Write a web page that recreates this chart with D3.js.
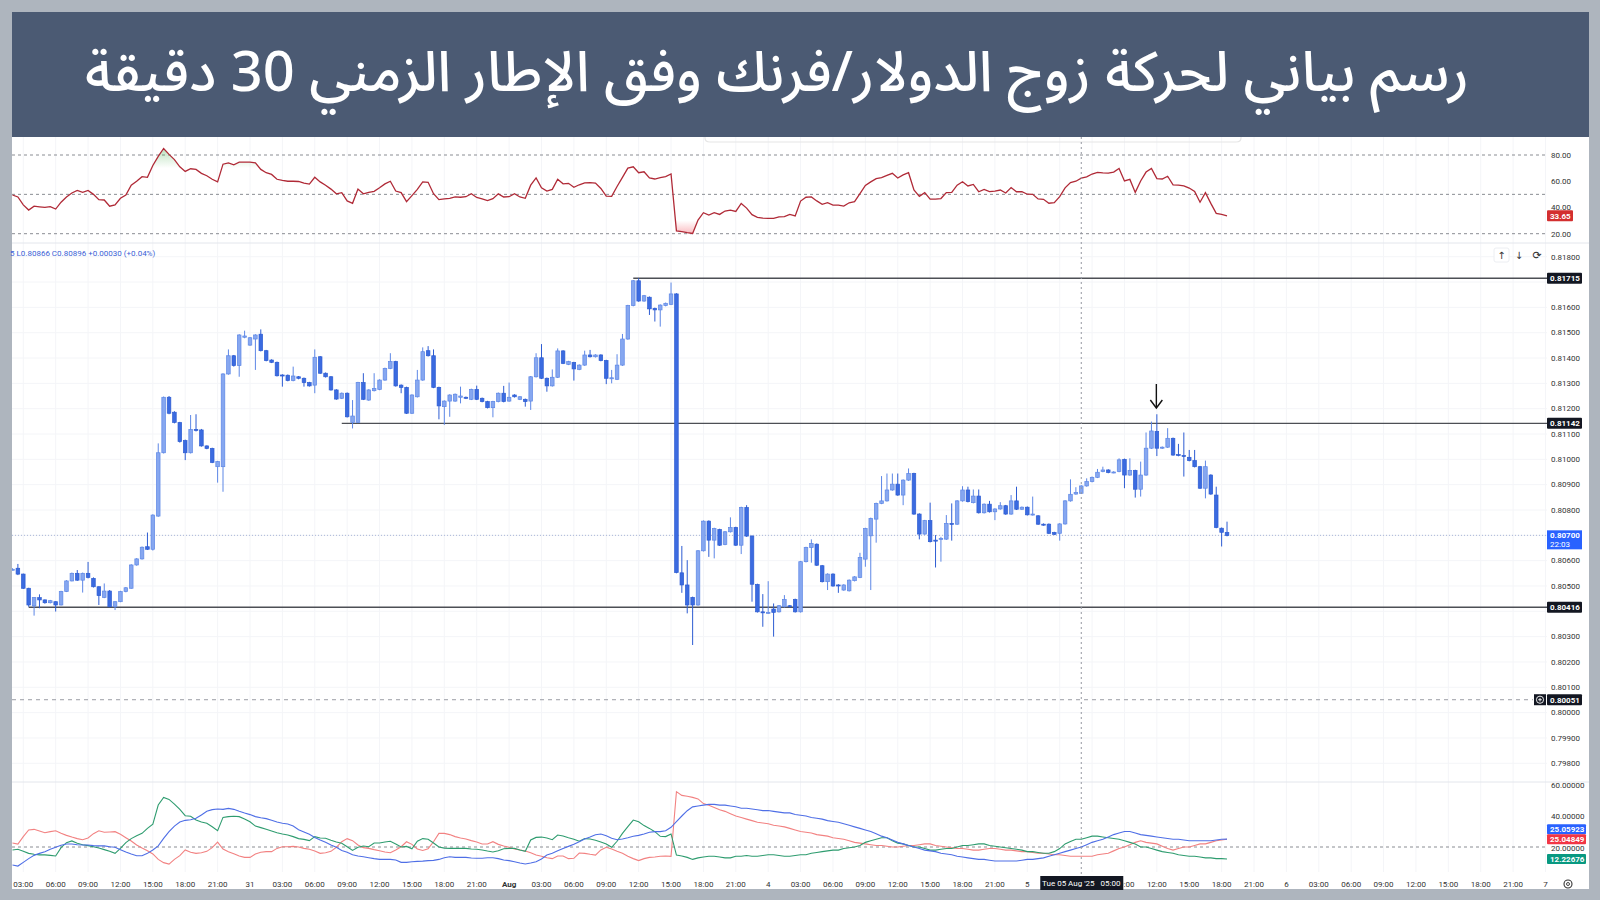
<!DOCTYPE html>
<html><head><meta charset="utf-8">
<script src="https://cdn.jsdelivr.net/npm/d3@7"></script>
<style>
html,body{margin:0;padding:0;background:#aeb5be;}
svg{display:block;}
</style></head>
<body><svg id="c" width="1600" height="900"></svg>
<script>
// ---------- DATA ----------
const titleText = "رسم بياني لحركة زوج الدولار/فرنك وفق الإطار الزمني 30 دقيقة";
// half-hour slot (counted from 30 Jul 00:00) of the first candle
const candleStart = 4;
const open = [.80566,.80570,.80547,.80491,.80421,.80454,.80445,.80434,.80438,.80425,
.80478,.80520,.80550,.80523,.80550,.80530,.80497,.80455,.80480,.80418,
.80438,.80478,.80491,.80583,.80607,.80655,.80645,.80776,.81026,.81245,
.81186,.81145,.81074,.81026,.81118,.81116,.81053,.81043,.80971,.80971,
.81337,.81409,.81370,.81482,.81451,.81475,.81494,.81429,.81392,.81383,
.81333,.81332,.81311,.81326,.81320,.81303,.81293,.81405,.81340,.81326,
.81274,.81241,.81261,.81146,.81146,.81303,.81234,.81271,.81276,.81313,
.81359,.81386,.81293,.81284,.81182,.81247,.81313,.81429,.81409,.81284,
.81208,.81230,.81230,.81245,.81245,.81237,.81276,.81241,.81228,.81204,
.81228,.81261,.81230,.81254,.81237,.81237,.81230,.81326,.81401,.81320,
.81290,.81324,.81428,.81375,.81382,.81355,.81372,.81412,.81405,.81412,
.81390,.81318,.81316,.81372,.81475,.81607,.81705,.81625,.81640,.81596,
.81590,.81607,.81612,.81653,.80552,.80504,.80455,.80425,.80639,.80756,
.80681,.80723,.80664,.80714,.80731,.80661,.80810,.80697,.80506,.80398,
.80393,.80409,.80398,.80418,.80422,.80447,.80398,.80596,.80652,.80665,
.80580,.80517,.80547,.80504,.80484,.80481,.80521,.80534,.80606,.80698,
.80764,.80826,.80836,.80879,.80902,.80859,.80918,.80944,.80784,.80705,
.80758,.80681,.80684,.80685,.80747,.80744,.80836,.80879,.80829,.80855,
.80789,.80823,.80793,.80804,.80817,.80784,.80836,.80803,.80811,.80781,
.80777,.80744,.80744,.80711,.80708,.80745,.80836,.80863,.80866,.80895,
.80912,.80929,.80952,.80958,.80948,.80952,.81000,.80938,.80956,.80882,
.80938,.81044,.81110,.81044,.81048,.81083,.81019,.81015,.81008,.80995,
.80971,.80886,.80938,.80859,.80728,.80711];
const high = [.80570,.80587,.80549,.80493,.80456,.80467,.80447,.80445,.80440,.80481,
.80523,.80553,.80563,.80553,.80595,.80534,.80499,.80510,.80484,.80440,
.80481,.80496,.80586,.80610,.80656,.80711,.80783,.81063,.81248,.81250,
.81190,.81148,.81078,.81175,.81178,.81120,.81055,.81046,.80994,.81340,
.81434,.81412,.81494,.81508,.81483,.81494,.81513,.81432,.81395,.81386,
.81336,.81335,.81366,.81329,.81323,.81306,.81434,.81408,.81343,.81329,
.81277,.81264,.81264,.81234,.81306,.81340,.81277,.81340,.81316,.81362,
.81419,.81389,.81296,.81287,.81257,.81353,.81442,.81447,.81434,.81287,
.81233,.81257,.81260,.81287,.81248,.81279,.81291,.81244,.81231,.81231,
.81264,.81290,.81303,.81257,.81250,.81240,.81329,.81419,.81455,.81323,
.81355,.81438,.81431,.81389,.81385,.81375,.81429,.81432,.81415,.81415,
.81393,.81353,.81415,.81495,.81610,.81708,.81715,.81649,.81643,.81599,
.81612,.81619,.81698,.81656,.80658,.80602,.80458,.80642,.80759,.80759,
.80730,.80726,.80717,.80771,.80734,.80813,.80819,.80700,.80509,.80468,
.80519,.80431,.80425,.80464,.80425,.80450,.80599,.80655,.80684,.80668,
.80583,.80550,.80550,.80507,.80507,.80526,.80539,.80631,.80730,.80770,
.80829,.80934,.80944,.80944,.80944,.80921,.80964,.80947,.80787,.80761,
.80829,.80701,.80694,.80780,.80826,.80839,.80894,.80892,.80881,.80881,
.80826,.80836,.80807,.80831,.80820,.80859,.80892,.80814,.80814,.80853,
.80780,.80747,.80747,.80714,.80748,.80839,.80921,.80890,.80898,.80925,
.80932,.80962,.80971,.80961,.80953,.81004,.81003,.81004,.80959,.80991,
.81106,.81149,.81178,.81051,.81123,.81086,.81061,.81106,.81037,.81037,
.80974,.80995,.80941,.80892,.80731,.80754];
const low = [.80562,.80543,.80488,.80418,.80383,.80412,.80430,.80431,.80399,.80423,
.80476,.80518,.80520,.80474,.80530,.80494,.80425,.80452,.80416,.80405,
.80436,.80475,.80489,.80580,.80604,.80642,.80640,.80773,.81023,.81178,
.81142,.81066,.80997,.81023,.81110,.81050,.81040,.80985,.80908,.80872,
.81334,.81366,.81326,.81478,.81448,.81353,.81426,.81387,.81380,.81327,
.81287,.81308,.81308,.81316,.81287,.81287,.81261,.81337,.81323,.81271,
.81235,.81238,.81165,.81122,.81143,.81234,.81231,.81268,.81273,.81310,
.81356,.81287,.81261,.81179,.81179,.81244,.81310,.81406,.81281,.81158,
.81136,.81168,.81227,.81221,.81238,.81234,.81234,.81225,.81201,.81166,
.81225,.81225,.81227,.81244,.81234,.81208,.81195,.81323,.81317,.81267,
.81287,.81321,.81376,.81372,.81311,.81352,.81369,.81402,.81402,.81387,
.81297,.81300,.81313,.81369,.81472,.81604,.81622,.81622,.81570,.81544,
.81524,.81604,.81609,.80550,.80473,.80392,.80267,.80422,.80636,.80615,
.80609,.80658,.80661,.80711,.80658,.80626,.80694,.80438,.80395,.80339,
.80390,.80300,.80395,.80415,.80415,.80395,.80395,.80593,.80592,.80579,
.80514,.80484,.80497,.80473,.80481,.80478,.80518,.80531,.80576,.80484,
.80671,.80823,.80833,.80876,.80856,.80819,.80915,.80781,.80684,.80702,
.80672,.80573,.80596,.80682,.80679,.80741,.80833,.80830,.80826,.80786,
.80786,.80790,.80760,.80801,.80781,.80781,.80800,.80800,.80778,.80778,
.80741,.80738,.80705,.80701,.80679,.80742,.80833,.80860,.80863,.80892,
.80909,.80926,.80949,.80945,.80945,.80949,.80886,.80935,.80849,.80853,
.80935,.81041,.81013,.81041,.81045,.81014,.81012,.80932,.80992,.80968,
.80883,.80846,.80860,.80728,.80656,.80696];
const close = [.80566,.80547,.80491,.80425,.80454,.80445,.80434,.80442,.80425,.80478,
.80520,.80550,.80523,.80550,.80534,.80497,.80462,.80480,.80418,.80438,
.80478,.80493,.80583,.80607,.80653,.80645,.80780,.81026,.81245,.81182,
.81146,.81070,.81026,.81118,.81116,.81053,.81043,.80988,.80991,.81337,
.81409,.81370,.81491,.81487,.81480,.81491,.81429,.81390,.81383,.81330,
.81329,.81311,.81329,.81320,.81303,.81290,.81403,.81340,.81326,.81274,
.81238,.81261,.81168,.81171,.81303,.81237,.81274,.81280,.81313,.81359,
.81386,.81290,.81284,.81182,.81254,.81313,.81425,.81409,.81284,.81211,
.81230,.81254,.81257,.81250,.81241,.81276,.81237,.81228,.81204,.81228,
.81261,.81228,.81245,.81247,.81247,.81228,.81326,.81401,.81320,.81290,
.81324,.81428,.81379,.81386,.81357,.81372,.81412,.81405,.81412,.81390,
.81320,.81322,.81372,.81475,.81607,.81705,.81625,.81646,.81594,.81590,
.81609,.81616,.81653,.80553,.80504,.80425,.80425,.80639,.80756,.80681,
.80727,.80661,.80714,.80731,.80661,.80810,.80697,.80507,.80398,.80394,
.80396,.80396,.80422,.80447,.80418,.80398,.80596,.80652,.80668,.80582,
.80517,.80547,.80500,.80500,.80504,.80523,.80536,.80613,.80727,.80767,
.80826,.80836,.80879,.80902,.80859,.80918,.80944,.80784,.80705,.80758,
.80675,.80679,.80688,.80747,.80744,.80836,.80879,.80833,.80855,.80789,
.80823,.80793,.80804,.80817,.80784,.80836,.80803,.80811,.80781,.80784,
.80744,.80741,.80708,.80704,.80745,.80836,.80862,.80869,.80895,.80912,
.80929,.80949,.80958,.80948,.80950,.80998,.80938,.80956,.80882,.80938,
.81044,.81112,.81044,.81048,.81083,.81017,.81015,.81011,.80995,.80971,
.80886,.80971,.80863,.80731,.80712,.80699];
const rsi = [49.5,48,42,38,41,40.5,40,40.6,38.8,44,
48,51,53,51.5,53,50,46,45.7,41,42,
47,49.5,57,60,63.5,63,72,79,85,80.5,
76.5,71,67.5,69.5,69,66,64.2,61.5,59.5,73,
74,72.5,74.5,74.5,74.5,74,69,66.5,65.2,61.5,
60.6,60,60,59.8,58.5,57.8,63,59.5,57,54,
50.4,51.3,45,43.2,54,50.4,51.5,52.3,55,58,
60,52.5,51.3,44.4,49,53.8,59.5,59.2,50.5,46,
46.5,46.9,48,47.8,48.2,50.5,47.6,46.6,45.3,46.7,
50.4,48,48.2,50.5,48,47,57,62.5,55,52.5,
53.8,61.5,58,58.4,55.4,57.3,58.8,59,58.6,54.5,
48.6,48.5,56,63,70,71,66.5,67.2,62.5,61.7,
62.8,63.5,65.5,22.2,21.6,20.8,20.2,30.4,36,34.2,
36,34.7,37.3,38,37,43.1,39.5,34.5,32.5,31.8,
31.7,31.7,32.8,33,34.7,33.6,44.9,47.8,48,45,
42.4,43.6,41.8,41.8,41.1,43.6,44.4,50.5,56.8,59.5,
62,62.7,64.5,66,62.5,64.8,66.5,53.3,48.5,51.3,
46.4,46.4,46.8,51.3,51.5,57,59.6,56.4,57.6,52,
53.8,52.1,52.5,53.3,51,55.2,52,52,50.1,50,
46.5,46.2,43.2,43.6,48.2,55,59,60,62.3,63.4,
65.5,66.8,66.4,66.2,67,69.8,60.2,61.4,51.5,60.2,
67,69.8,62,61.7,63.8,57.2,57,56.5,54.8,52.2,
44,51.3,43.1,35.5,34.7,33.65];
const diPlus = [18.1,18.5,17.2,15.9,15.3,14.9,14.9,14.6,14.2,19.6,
22.8,23.9,22.4,21.5,20.9,20.2,19.3,18.3,17.2,15.9,
19.1,22.8,25.4,27.3,28.8,32.0,34.8,47.1,52.0,50.7,
47.7,44.3,40.2,39.8,37.4,36.1,35.3,33.1,30.5,39.1,
39.6,39.8,39.6,38.1,36.3,33.5,32.5,31.4,30.3,29.2,
28.4,27.7,26.7,25.4,24.9,24.1,26.7,25.8,25.6,24.3,
23.2,22.4,20.2,17.8,19.8,20.6,20.2,22.6,22.6,23.2,
23.7,21.9,20.0,20.4,18.9,23.7,25.4,25.0,22.6,20.0,
19.3,19.1,19.1,19.1,19.1,18.7,18.5,18.1,17.4,16.8,
17.6,18.9,19.1,19.1,18.1,17.2,24.5,26.2,26.4,25.8,
24.7,27.7,27.1,26.0,25.0,23.7,25.4,25.2,24.3,23.2,
21.9,19.8,23.7,28.8,33.1,37.4,36.3,33.8,32.0,29.9,
26.9,26.7,28.4,14.8,14.2,13.3,12.0,13,13.5,14,
14,13.5,13,13,14,14,14.5,14,14,14.5,
15,15,14.5,14,14,14.5,15,15,16,16.5,
17,17.5,18,18,19,19.5,20,21,23,24,
25,26,26,24,22.5,22,21,20,20,19,
18,18,18.5,19,19,20,21,21,21.5,22,
22,21,20.5,20,19.5,19,18.5,18,17,17,
16.5,16,16,17,19,22,23.5,25,25,26,
27,27,26.5,26,25.5,25,24,23,22,20,
20,19,18,17,16.5,16,15,14.5,14,14,
13.5,13,13,12.5,12.5,12.23];
const diMinus = [22.6,21.9,26.7,31.0,31.4,30.3,29.2,29.9,30.5,28.8,
27.5,26.4,25.4,24.7,25.8,28.6,30.5,29.5,29.7,29.9,
28.2,26.0,23.9,21.3,19.4,17.6,15.5,12.0,9.9,9.0,
12.0,14.4,18.1,16.6,15.9,16.3,17.2,19.6,23.2,18.7,
17.0,15.7,14.2,13.3,13.3,15.5,16.6,17.0,17.0,19.1,
20.2,20.2,20.4,20.0,19.1,18.5,17.4,15.9,16.3,17.2,
19.8,23.4,25.4,24.1,21.3,19.6,19.1,18.3,17.6,16.8,
16.3,18.1,20.2,23.4,21.7,18.7,17.8,18.9,23.4,28.8,
28.8,28.0,26.7,25.8,25.2,24.1,23.2,21.9,21.9,23.4,
21.7,20.6,19.8,18.7,18.1,17.4,16.3,14.8,14.0,13.1,
12.5,14.2,14.2,12.5,12.7,16.1,15.9,15.3,14.8,18.1,
19.8,18.7,17.2,15.9,14.0,12.5,11.2,12.5,13.3,13.5,
14.0,14.2,14.0,55.7,53.3,52.7,52.0,51,48,47,
45.5,44,43,41.5,40,39,38,37,36,35.5,
35,34,33.5,33,32,31,30,29.5,29,28,
27.5,27,26,25.5,25,24,23,22.5,22,21.5,
21,21,20.5,20,20,20.5,21,21,21.5,22,
22,21,20.5,20,19.5,19,19,18.5,18,18,
18.5,19,19,18.5,18,18,17.5,17,17,16.5,
16,16,15.5,15,15,14.5,14,14,14,14,
14,15,15.5,16,17.5,19,20,21.5,23,24,
23,22.5,22,20.5,19,18,19,20,20,21,
22,22,23,24,24.5,25.05];
const adx = [8.4,7.7,10.1,12.5,14.6,15.9,17.0,18.5,19.8,21.1,
21.9,21.9,21.5,21.3,21.3,20.9,20.7,20.7,20.2,19.8,
18.3,16.8,15.5,14.4,14.4,15.9,18.1,20.7,25.6,29.9,
33.5,36.1,37.2,37.6,38.5,40.7,43.0,44.1,44.5,44.3,
44.9,44.3,43.0,41.9,40.9,39.6,38.9,38.3,37.2,36.1,
35.3,34.8,33.5,31.2,29.7,28.2,26.2,24.5,23.0,21.3,
19.8,17.8,16.6,15.0,14.2,13.7,13.1,12.5,12.0,12.0,
12.0,11.6,10.1,10.1,10.5,10.7,10.9,11.2,11.4,12.0,
13.1,13.7,13.3,13.3,13.3,12.9,12.7,12.7,13.1,13.1,
12.5,11.6,11.2,10.5,9.7,9.0,9.7,10.5,12.3,14.8,
15.9,17.6,19.1,20.4,21.7,23.4,25.2,26.4,27.9,28.4,
27.3,25.6,24.7,25.2,26.0,26.9,27.5,28.4,29.5,29.9,
29.9,30.5,32.7,36.3,40.0,43.4,45.9,46.5,47,47.5,
47.5,47,47,46.5,46,45,45,44.5,44,43.5,
43.5,43,42.5,42,42,41,40.5,40,39,38.5,
38,37,36.5,36,35,34,33,32,31,30,
28.5,27,26,24.5,23,22,21,20,19,18,
17.5,17,16,15.5,15,14,13.5,13,12.5,12,
12,11.5,11,11,11,11,11,11.5,12,12,
12.5,13,14,15,16,17,18,19,20,21.5,
23,24,25,26.5,28,29,30,30,29,28,
27.5,27,26.5,26,25.5,25,25,24.5,24,24,
24,24,24,24.5,25,25.06];
// time-axis labels, one every 6 half-hour slots (3 h)
const timeLabels = ["03:00","06:00","09:00","12:00","15:00","18:00","21:00","31",
"03:00","06:00","09:00","12:00","15:00","18:00","21:00","Aug",
"03:00","06:00","09:00","12:00","15:00","18:00","21:00","4",
"03:00","06:00","09:00","12:00","15:00","18:00","21:00","5",
"03:00","06:00","09:00","12:00","15:00","18:00","21:00","6",
"03:00","06:00","09:00","12:00","15:00","18:00","21:00","7"];
const levelPrices = [0.81715, 0.81142, 0.80416];
const levelStartSlot = [119, 65, 7];
const alertPrice = 0.80051;
const lastPrice = 0.80700, lastCountdown = "22:03";
const rsiLast = 33.65;
const dmiLast = {adx:"25.05923", minus:"25.04849", plus:"12.22676"};
const crossSlot = 202, crossLabel = "Tue 05 Aug '25   05:00";
const arrowSlot = 216;
const legendText = "5 L0.80866 C0.80896 +0.00030 (+0.04%)";

// ---------- LAYOUT ----------
const W = 1600, H = 900;
const L = 12, R = 1547, AX = 1551;
const svg = d3.select('#c');
const FONT = "Roboto, 'Liberation Sans', sans-serif";

const x = d3.scaleLinear().domain([0, 288]).range([-9.1, 1545.5]);
const yP = d3.scaleLinear().domain([0.798, 0.818]).range([763.3, 256.7]);
const yR = d3.scaleLinear().domain([20, 80]).range([233.7, 155]);
const yD = d3.scaleLinear().domain([20, 60]).range([847, 785]);

svg.append('rect').attr('width', W).attr('height', H).attr('fill', '#aeb5be');
svg.append('rect').attr('x', L).attr('y', 137).attr('width', 1577).attr('height', 752).attr('fill', '#ffffff');
svg.append('rect').attr('x', L).attr('y', 12).attr('width', 1577).attr('height', 125).attr('fill', '#4b5a73');

// title
const tt = svg.append('text').attr('x', 777).attr('y', 91)
  .attr('text-anchor', 'middle').attr('direction', 'rtl')
  .attr('fill', '#ffffff').attr('font-family', "'Noto Sans Arabic','Noto Naskh Arabic','DejaVu Sans',sans-serif")
  .attr('font-size', 48).attr('font-weight', 500).text(titleText);
const tw = tt.node().getComputedTextLength();
if (tw > 0) tt.attr('font-size', 48 * 1384 / tw);

// defs / clips
const defs = svg.append('defs');
function clip(id, x0, y0, x1, y1) {
  defs.append('clipPath').attr('id', id).append('rect')
    .attr('x', x0).attr('y', y0).attr('width', x1 - x0).attr('height', y1 - y0);
}
clip('cMain', L, 243, R, 782);
clip('cRsi', L, 137, R, 243);
clip('cDmi', L, 782, R, 872);
clip('cOB', L, 137, R, yR(70));
clip('cOS', L, yR(30), R, 243);
function vGrad(id, col, yTransparent, ySolid, maxOp) {
  const g = defs.append('linearGradient').attr('id', id).attr('gradientUnits', 'userSpaceOnUse')
    .attr('x1', 0).attr('x2', 0).attr('y1', yTransparent).attr('y2', ySolid);
  g.append('stop').attr('offset', 0).attr('stop-color', col).attr('stop-opacity', 0);
  g.append('stop').attr('offset', 1).attr('stop-color', col).attr('stop-opacity', maxOp);
}
vGrad('gOB', '#4caf50', yR(70), yR(100), 0.75);
vGrad('gOS', '#f23645', yR(30), yR(0), 1);

// grid
const grid = svg.append('g');
const slots = d3.range(1, timeLabels.length + 1).map(k => k * 6);
grid.selectAll('line.v').data(slots).join('line')
  .attr('x1', d => x(d)).attr('x2', d => x(d)).attr('y1', 137).attr('y2', 872)
  .attr('stroke', '#f4f5f8').attr('stroke-width', 1);
const pTicks = yP.ticks(20);
grid.selectAll('line.h').data(pTicks).join('line')
  .attr('x1', L).attr('x2', R).attr('y1', d => yP(d)).attr('y2', d => yP(d))
  .attr('stroke', '#f4f5f8');

// panel separators
[243, 782].forEach(yy => svg.append('line').attr('x1', L).attr('x2', 1589).attr('y1', yy).attr('y2', yy).attr('stroke', '#e3e6ec'));

// floating toolbar edge
svg.append('path').attr('d', 'M705,137 L705,138 Q705,142 710,142 L1236,142 Q1241,142 1241,138 L1241,137')
  .attr('fill', 'none').attr('stroke', '#e6e6e6').attr('stroke-width', 1.2);

// ---- RSI panel ----
const rsiG = svg.append('g');
[80, 50, 20].forEach(v => rsiG.append('line').attr('x1', L).attr('x2', R).attr('y1', yR(v)).attr('y2', yR(v))
  .attr('stroke', '#8a8d93').attr('stroke-dasharray', '3,3').attr('stroke-width', 1));
const rsiPts = rsi.map((v, i) => [candleStart + i, v]);
rsiG.append('path').datum(rsiPts).attr('clip-path', 'url(#cOB)')
  .attr('d', d3.area().x(d => x(d[0])).y0(yR(70)).y1(d => yR(d[1])))
  .attr('fill', 'url(#gOB)');
rsiG.append('path').datum(rsiPts).attr('clip-path', 'url(#cOS)')
  .attr('d', d3.area().x(d => x(d[0])).y0(yR(30)).y1(d => yR(d[1])))
  .attr('fill', 'url(#gOS)');
rsiG.append('path').datum(rsiPts).attr('clip-path', 'url(#cRsi)')
  .attr('d', d3.line().x(d => x(d[0])).y(d => yR(d[1])))
  .attr('fill', 'none').attr('stroke', '#b02a37').attr('stroke-width', 1.3);
const rsiAx = svg.append('g').attr('font-family', FONT).attr('font-size', 8).attr('fill', '#333');
[80, 60, 40, 20].forEach(v => rsiAx.append('text').attr('x', AX).attr('y', yR(v)).attr('dy', '0.35em').text(d3.format('.2f')(v)));

// ---- Main price panel ----
const mainG = svg.append('g').attr('clip-path', 'url(#cMain)');
const tagPrices = levelPrices.concat([alertPrice, lastPrice]);
const pAx = svg.append('g').attr('font-family', FONT).attr('font-size', 8).attr('fill', '#333');
pTicks.filter(p => tagPrices.every(q => Math.abs(yP(p) - yP(q)) > 6))
  .forEach(p => pAx.append('text').attr('x', AX).attr('y', yP(p)).attr('dy', '0.35em').text(d3.format('.5f')(p)));

// last price dotted line
mainG.append('line').attr('x1', L).attr('x2', R).attr('y1', yP(lastPrice)).attr('y2', yP(lastPrice))
  .attr('stroke', '#a9b6d8').attr('stroke-dasharray', '1,2');
// alert dashed line
mainG.append('line').attr('x1', L).attr('x2', 1533).attr('y1', yP(alertPrice)).attr('y2', yP(alertPrice))
  .attr('stroke', '#9a9da4').attr('stroke-dasharray', '4,4');
// level lines
levelPrices.forEach((p, i) => mainG.append('line')
  .attr('x1', x(levelStartSlot[i])).attr('x2', R).attr('y1', yP(p)).attr('y2', yP(p))
  .attr('stroke', '#4d4f55').attr('stroke-width', 1.3));

// candles
const candles = open.map((o, i) => ({t: candleStart + i, o, h: high[i], l: low[i], c: close[i]}));
const upFill = '#86a7f0', upStroke = '#5d87e6', dnFill = '#3b6be0', dnStroke = '#2d5cd2';
const cg = mainG.append('g');
cg.selectAll('line').data(candles).join('line')
  .attr('x1', d => x(d.t)).attr('x2', d => x(d.t))
  .attr('y1', d => yP(d.h)).attr('y2', d => yP(d.l))
  .attr('stroke', d => d.c >= d.o ? upStroke : dnStroke).attr('stroke-width', 1);
cg.selectAll('rect').data(candles).join('rect')
  .attr('x', d => x(d.t) - 1.8).attr('width', 3.6)
  .attr('y', d => yP(Math.max(d.o, d.c)))
  .attr('height', d => Math.max(1, Math.abs(yP(d.o) - yP(d.c))))
  .attr('fill', d => d.c >= d.o ? upFill : dnFill)
  .attr('stroke', d => d.c >= d.o ? upStroke : dnStroke).attr('stroke-width', 0.7);

// arrow annotation
const ax0 = x(arrowSlot) - 0.5;
svg.append('line').attr('x1', ax0).attr('x2', ax0).attr('y1', 384).attr('y2', 407).attr('stroke', '#111').attr('stroke-width', 1.4);
svg.append('path').attr('d', `M${ax0 - 6},${400} L${ax0},${408} L${ax0 + 6},${400}`)
  .attr('fill', 'none').attr('stroke', '#111').attr('stroke-width', 1.4);

// legend
svg.append('text').attr('x', 10).attr('y', 256).attr('font-family', FONT).attr('font-size', 8)
  .attr('fill', '#3b5fd6').text(legendText);

// top right buttons
const btn = svg.append('g').attr('font-family', "'DejaVu Sans',sans-serif").attr('font-size', 10).attr('fill', '#333').attr('text-anchor', 'middle');
btn.append('rect').attr('x', 1494).attr('y', 248).attr('width', 15).attr('height', 14).attr('rx', 2).attr('fill', '#fff').attr('stroke', '#eceef2');
btn.append('text').attr('x', 1501.5).attr('y', 259).text('↑');
btn.append('text').attr('x', 1519).attr('y', 259).text('↓');
btn.append('text').attr('x', 1537).attr('y', 259).attr('font-size', 11).text('⟳');

// price labels
function tag(y, txt, bg, fg, x0 = 1547, w = 35, h = 11) {
  svg.append('rect').attr('x', x0).attr('y', y - h / 2).attr('width', w).attr('height', h).attr('fill', bg).attr('rx', 1);
  svg.append('text').attr('x', x0 + 3).attr('y', y).attr('dy', '0.35em').attr('font-family', FONT)
    .attr('font-size', 8).attr('font-weight', 700).attr('fill', fg).text(txt);
}
levelPrices.forEach(p => tag(yP(p), d3.format('.5f')(p), '#131722', '#fff'));
tag(yP(alertPrice), d3.format('.5f')(alertPrice), '#131722', '#fff');
// alert icon
svg.append('rect').attr('x', 1534).attr('y', yP(alertPrice) - 5.5).attr('width', 12).attr('height', 11).attr('fill', '#131722');
svg.append('circle').attr('cx', 1540).attr('cy', yP(alertPrice)).attr('r', 3.6).attr('fill', 'none').attr('stroke', '#fff').attr('stroke-width', 0.9);
svg.append('path').attr('d', `M1538.2,${yP(alertPrice)} h3.6 M1540,${yP(alertPrice) - 1.8} v3.6`).attr('stroke', '#fff').attr('stroke-width', 0.9);
// last price tag (two lines)
svg.append('rect').attr('x', 1547).attr('y', yP(lastPrice) - 5).attr('width', 35).attr('height', 19).attr('fill', '#2962ff');
svg.append('text').attr('x', 1550).attr('y', yP(lastPrice)).attr('dy', '0.35em').attr('font-family', FONT).attr('font-size', 8).attr('font-weight', 700).attr('fill', '#fff').text(d3.format('.5f')(lastPrice));
svg.append('text').attr('x', 1550).attr('y', yP(lastPrice) + 9).attr('dy', '0.35em').attr('font-family', FONT).attr('font-size', 8).attr('fill', '#fff').text(lastCountdown);
// rsi tag
tag(yR(rsiLast), d3.format('.2f')(rsiLast), '#d32f2f', '#fff', 1547, 26, 11);

// ---- DMI panel ----
const dG = svg.append('g').attr('clip-path', 'url(#cDmi)');
dG.append('line').attr('x1', L).attr('x2', R).attr('y1', yD(20)).attr('y2', yD(20))
  .attr('stroke', '#8a8d93').attr('stroke-dasharray', '3,3');
const dLine = d3.line().x(d => x(d[0])).y(d => yD(d[1]));
[[diMinus, '#f28282'], [diPlus, '#2e9c6f'], [adx, '#4f6fe6']].forEach(([arr, col]) => {
  dG.append('path').datum(arr.map((v, i) => [candleStart + i, v])).attr('d', dLine)
    .attr('fill', 'none').attr('stroke', col).attr('stroke-width', 1.1);
});
const dAx = svg.append('g').attr('font-family', FONT).attr('font-size', 8).attr('fill', '#333');
[60, 40].forEach(v => dAx.append('text').attr('x', AX).attr('y', yD(v)).attr('dy', '0.35em').text(d3.format('.5f')(v)));
dAx.append('text').attr('x', AX).attr('y', yD(20) + 1.5).attr('dy', '0.35em').text(d3.format('.5f')(20));
tag(yD(+dmiLast.adx) - 10, dmiLast.adx, '#2962ff', '#fff', 1547, 39, 10);
tag(yD(+dmiLast.minus), dmiLast.minus, '#f23645', '#fff', 1547, 39, 10);
tag(yD(+dmiLast.plus), dmiLast.plus, '#089981', '#fff', 1547, 39, 10);

// ---- crosshair ----
svg.append('line').attr('x1', x(crossSlot)).attr('x2', x(crossSlot)).attr('y1', 137).attr('y2', 875)
  .attr('stroke', '#9598a1').attr('stroke-dasharray', '2,3');

// ---- time axis ----
const boxL = x(crossSlot) - 41, boxR = x(crossSlot) + 42;
clip('cTime', boxR, 870, 1600, 900);
const tAx = svg.append('g').attr('font-family', FONT).attr('font-size', 8).attr('fill', '#333').attr('text-anchor', 'middle');
timeLabels.forEach((s, k) => {
  const xc = x(slots[k]);
  if (xc + 11 > boxL && xc - 11 < boxR && xc + 11 <= boxR + 1) return; // hidden behind crosshair label
  const t = tAx.append('text').attr('x', xc).attr('y', 884).attr('dy', '0.35em')
    .attr('font-weight', s === 'Aug' ? 700 : 400).text(s);
  if (xc - 11 < boxR && xc > boxL) t.attr('clip-path', 'url(#cTime)');
});
svg.append('rect').attr('x', boxL).attr('y', 876).attr('width', boxR - boxL).attr('height', 14).attr('fill', '#131722');
svg.append('text').attr('x', x(crossSlot)).attr('y', 883).attr('dy', '0.35em').attr('text-anchor', 'middle')
  .attr('font-family', FONT).attr('font-size', 8).attr('fill', '#fff').attr('xml:space', 'preserve').text(crossLabel);
// settings icon
svg.append('circle').attr('cx', 1568).attr('cy', 884).attr('r', 4).attr('fill', 'none').attr('stroke', '#333').attr('stroke-width', 1.1);
svg.append('circle').attr('cx', 1568).attr('cy', 884).attr('r', 1.5).attr('fill', 'none').attr('stroke', '#333').attr('stroke-width', 0.9);
</script>
</body></html>
